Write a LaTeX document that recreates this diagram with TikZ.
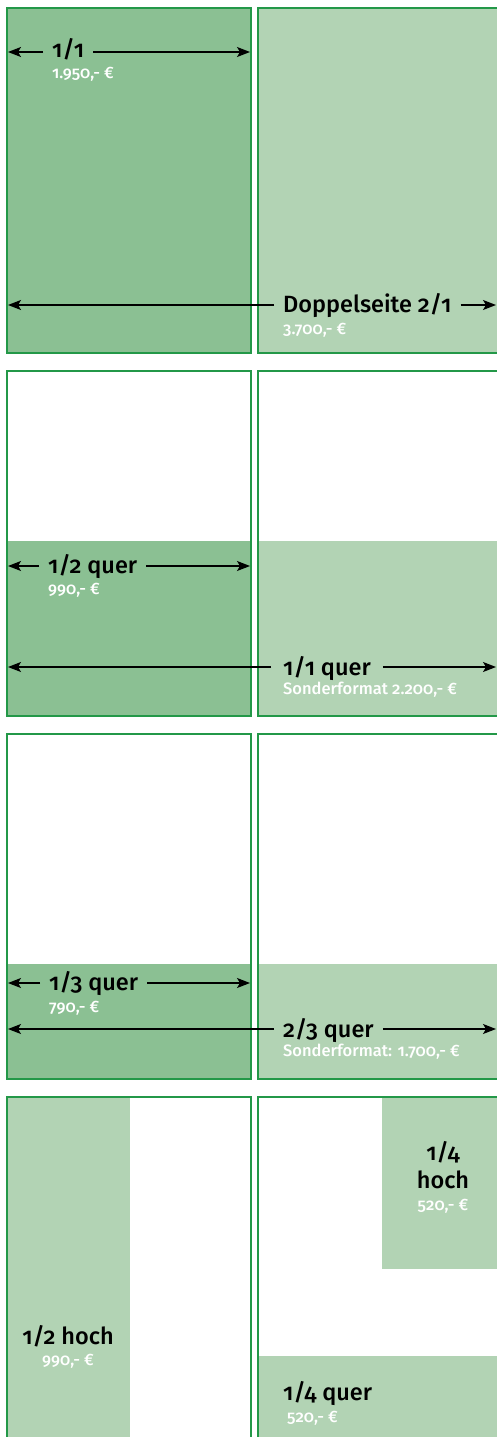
\documentclass[tikz,border=0pt]{standalone}
\usepackage{fontspec}
\setmainfont{Fira Sans}[Numbers=OldStyle]
\newfontfamily\medfont{Fira Sans Medium}[Numbers=OldStyle]
\usetikzlibrary{arrows.meta}

\definecolor{pgreen}{RGB}{35,152,72}
\definecolor{dgreen}{RGB}{139,192,147}
\definecolor{lgreen}{RGB}{178,211,180}

\tikzset{
  page/.style={draw=pgreen, line width=1.6pt},
  lab/.style={font=\medfont\fontsize{23.5}{26}\selectfont, anchor=base west, inner xsep=9pt, inner ysep=0pt},
  price/.style={font=\medfont\fontsize{16.5}{18}\selectfont, text=white, anchor=base west, inner sep=0pt},
  dim/.style={-{Stealth[length=13pt,width=10pt,inset=3pt]}, line width=1.3pt}
}

\begin{document}
\begin{tikzpicture}[x=1pt,y=-1pt]
\useasboundingbox (0,0) rectangle (497,1437);
\clip (0,0) rectangle (497,1437);

%% fills
\fill[dgreen] (7,8) rectangle (251,353);
\fill[lgreen] (258,8) rectangle (502,353);
\fill[dgreen] (7,541) rectangle (251,716);
\fill[lgreen] (258,541) rectangle (502,716);
\fill[dgreen] (7,964) rectangle (251,1079);
\fill[lgreen] (258,964) rectangle (502,1079);
\fill[lgreen] (7,1097) rectangle (130,1442);
\fill[lgreen] (382,1097) rectangle (502,1269);
\fill[lgreen] (258,1356) rectangle (502,1442);

%% pages
\draw[page] (7,8) rectangle (251,353);
\draw[page] (258,8) rectangle (502,353);
\draw[page] (7,371) rectangle (251,716);
\draw[page] (258,371) rectangle (502,716);
\draw[page] (7,734) rectangle (251,1079);
\draw[page] (258,734) rectangle (502,1079);
\draw[page] (7,1097) rectangle (251,1442);
\draw[page] (258,1097) rectangle (502,1442);

%% arrow ends
\coordinate (oneL) at (8,52);
\coordinate (oneR) at (250,52);
\coordinate (dblL) at (8,305);
\coordinate (dblR) at (496,305);
\coordinate (halfL) at (8,566);
\coordinate (halfR) at (250,566);
\coordinate (fullL) at (8,667);
\coordinate (fullR) at (496,667);
\coordinate (thirdL) at (8,983);
\coordinate (thirdR) at (250,983);
\coordinate (twoL) at (8,1029);
\coordinate (twoR) at (496,1029);

%% labels
\node[lab] (one) at (43,58) {1/1};
\node[price] (one-p) at (52,78) {1.950,- €};
\node[lab] (dbl) at (274,312) {Doppelseite 2/1};
\node[price] (dbl-p) at (283,334) {3.700,- €};
\node[lab] (half) at (39,573) {1/2 quer};
\node[price] (half-p) at (48,594) {990,- €};
\node[lab, inner xsep=12pt] (full) at (271,675) {1/1 quer};
\node[price] (full-p) at (283,694) {Sonderformat 2.200,- €};
\node[lab] (third) at (40,990) {1/3 quer};
\node[price] (third-p) at (49,1012) {790,- €};
\node[lab] (two) at (274,1037) {2/3 quer};
\node[price] (two-p) at (283,1056) {Sonderformat: 1.700,- €};
\node[lab, anchor=base] (hoch) at (68,1344) {1/2 hoch};
\node[price, anchor=base] (hoch-p) at (68,1365) {990,- €};
\node[lab, anchor=base] (qh) at (443,1160) {1/4};
\node[lab, anchor=base] (qh2) at (443,1188) {hoch};
\node[price, anchor=base] (qh-p) at (443,1210) {520,- €};
\node[lab] (qq) at (274,1400) {1/4 quer};
\node[price] (qq-p) at (287,1422) {520,- €};

%% arrows
\draw[dim] (one.west |- oneL) -- (oneL);
\draw[dim] (one.east |- oneR) -- (oneR);
\draw[dim] (dbl.west |- dblL) -- (dblL);
\draw[dim] (dbl.east |- dblR) -- (dblR);
\draw[dim] (half.west |- halfL) -- (halfL);
\draw[dim] (half.east |- halfR) -- (halfR);
\draw[dim] (full.west |- fullL) -- (fullL);
\draw[dim] (full.east |- fullR) -- (fullR);
\draw[dim] (third.west |- thirdL) -- (thirdL);
\draw[dim] (third.east |- thirdR) -- (thirdR);
\draw[dim] (two.west |- twoL) -- (twoL);
\draw[dim] (two.east |- twoR) -- (twoR);

\end{tikzpicture}
\end{document}
